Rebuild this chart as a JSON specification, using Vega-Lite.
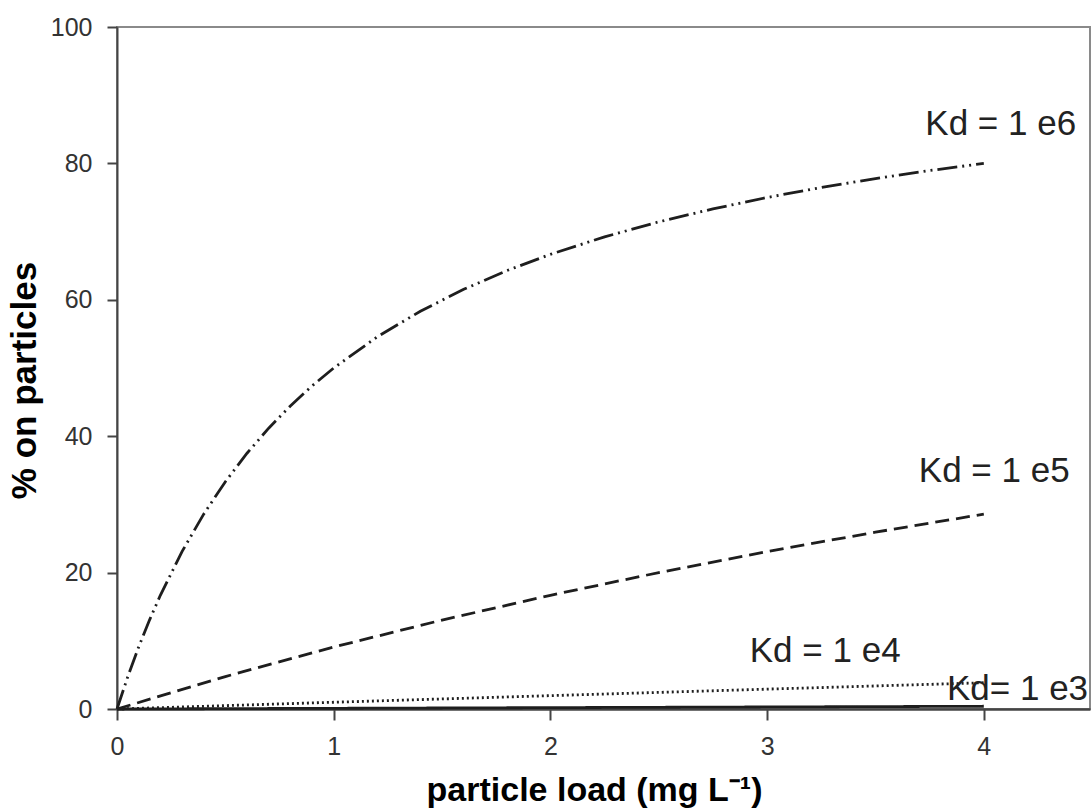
{
  "$schema": "https://vega.github.io/schema/vega-lite/v6.json",
  "autosize": {"type": "none"},
  "padding": {"left": 117, "top": 27, "right": 2, "bottom": 101},
  "width": 973,
  "height": 682,
  "background": "white",
  "config": {
    "view": {"stroke": "#8a8a8a", "strokeWidth": 2},
    "font": "Liberation Sans"
  },
  "datasets": {
    "curves": [
      {"series": "1e6", "load": 0, "pct": 0},
      {"series": "1e6", "load": 0.05, "pct": 4.76},
      {"series": "1e6", "load": 0.1, "pct": 9.09},
      {"series": "1e6", "load": 0.15, "pct": 13.04},
      {"series": "1e6", "load": 0.2, "pct": 16.67},
      {"series": "1e6", "load": 0.3, "pct": 23.08},
      {"series": "1e6", "load": 0.4, "pct": 28.57},
      {"series": "1e6", "load": 0.5, "pct": 33.33},
      {"series": "1e6", "load": 0.6, "pct": 37.5},
      {"series": "1e6", "load": 0.7, "pct": 41.18},
      {"series": "1e6", "load": 0.8, "pct": 44.44},
      {"series": "1e6", "load": 0.9, "pct": 47.37},
      {"series": "1e6", "load": 1.0, "pct": 50},
      {"series": "1e6", "load": 1.2, "pct": 54.55},
      {"series": "1e6", "load": 1.4, "pct": 58.33},
      {"series": "1e6", "load": 1.6, "pct": 61.54},
      {"series": "1e6", "load": 1.8, "pct": 64.29},
      {"series": "1e6", "load": 2.0, "pct": 66.67},
      {"series": "1e6", "load": 2.25, "pct": 69.23},
      {"series": "1e6", "load": 2.5, "pct": 71.43},
      {"series": "1e6", "load": 2.75, "pct": 73.33},
      {"series": "1e6", "load": 3.0, "pct": 75},
      {"series": "1e6", "load": 3.25, "pct": 76.47},
      {"series": "1e6", "load": 3.5, "pct": 77.78},
      {"series": "1e6", "load": 3.75, "pct": 78.95},
      {"series": "1e6", "load": 4.0, "pct": 80},
      {"series": "1e5", "load": 0, "pct": 0},
      {"series": "1e5", "load": 0.5, "pct": 4.76},
      {"series": "1e5", "load": 1.0, "pct": 9.09},
      {"series": "1e5", "load": 1.5, "pct": 13.04},
      {"series": "1e5", "load": 2.0, "pct": 16.67},
      {"series": "1e5", "load": 2.5, "pct": 20},
      {"series": "1e5", "load": 3.0, "pct": 23.08},
      {"series": "1e5", "load": 3.5, "pct": 25.93},
      {"series": "1e5", "load": 4.0, "pct": 28.57},
      {"series": "1e4", "load": 0, "pct": 0},
      {"series": "1e4", "load": 1.0, "pct": 0.99},
      {"series": "1e4", "load": 2.0, "pct": 1.96},
      {"series": "1e4", "load": 3.0, "pct": 2.91},
      {"series": "1e4", "load": 4.0, "pct": 3.85},
      {"series": "1e3", "load": 0, "pct": 0},
      {"series": "1e3", "load": 4.0, "pct": 0.4}
    ],
    "labels": [
      {"text": "Kd = 1 e6", "load": 3.73, "pct": 84.1},
      {"text": "Kd = 1 e5", "load": 3.70, "pct": 33.3},
      {"text": "Kd = 1 e4", "load": 2.92, "pct": 6.9},
      {"text": "Kd= 1 e3", "load": 3.83, "pct": 1.3}
    ]
  },
  "layer": [
    {
      "data": {"name": "curves"},
      "mark": {"type": "line", "color": "#1e1e1e", "strokeWidth": 2.8},
      "encoding": {
        "x": {
          "field": "load", "type": "quantitative",
          "scale": {"domain": [0, 4.49], "nice": false},
          "axis": {
            "values": [0, 1, 2, 3, 4],
            "format": "d",
            "labelFlush": false,
            "grid": false,
            "domainColor": "#444", "domainWidth": 2.5,
            "tickColor": "#444", "tickWidth": 2, "tickSize": 11,
            "labelFont": "Liberation Sans", "labelFontSize": 25, "labelColor": "#333",
            "labelPadding": 14,
            "title": "particle load (mg L⁻¹)",
            "titleFont": "Liberation Sans", "titleFontSize": 34, "titleFontWeight": "bold",
            "titleColor": "#000",
            "titleX": 477, "titleY": 91, "titleBaseline": "alphabetic", "titleAlign": "center"
          }
        },
        "y": {
          "field": "pct", "type": "quantitative",
          "scale": {"domain": [0, 100], "nice": false},
          "axis": {
            "values": [0, 20, 40, 60, 80, 100],
            "format": "d",
            "labelFlush": false,
            "grid": false,
            "domainColor": "#444", "domainWidth": 2,
            "tickColor": "#444", "tickWidth": 2, "tickSize": 10,
            "labelFont": "Liberation Sans", "labelFontSize": 25, "labelColor": "#333",
            "labelPadding": 15,
            "title": "% on particles",
            "titleFont": "Liberation Sans", "titleFontSize": 35, "titleFontWeight": "bold",
            "titleColor": "#000",
            "titleAngle": 270,
            "titleX": -82, "titleY": 353, "titleBaseline": "alphabetic", "titleAlign": "center"
          }
        },
        "detail": {"field": "series"},
        "strokeDash": {
          "field": "series", "type": "nominal",
          "scale": {
            "domain": ["1e6", "1e5", "1e4", "1e3"],
            "range": [[20, 5, 2, 5, 2, 5], [14, 7], [2, 3], [1, 0]]
          },
          "legend": null
        }
      }
    },
    {
      "data": {"name": "labels"},
      "mark": {"type": "text", "align": "left", "baseline": "alphabetic", "font": "Liberation Sans", "fontSize": 35, "color": "#222"},
      "encoding": {
        "x": {"field": "load", "type": "quantitative"},
        "y": {"field": "pct", "type": "quantitative"},
        "text": {"field": "text"}
      }
    }
  ]
}
